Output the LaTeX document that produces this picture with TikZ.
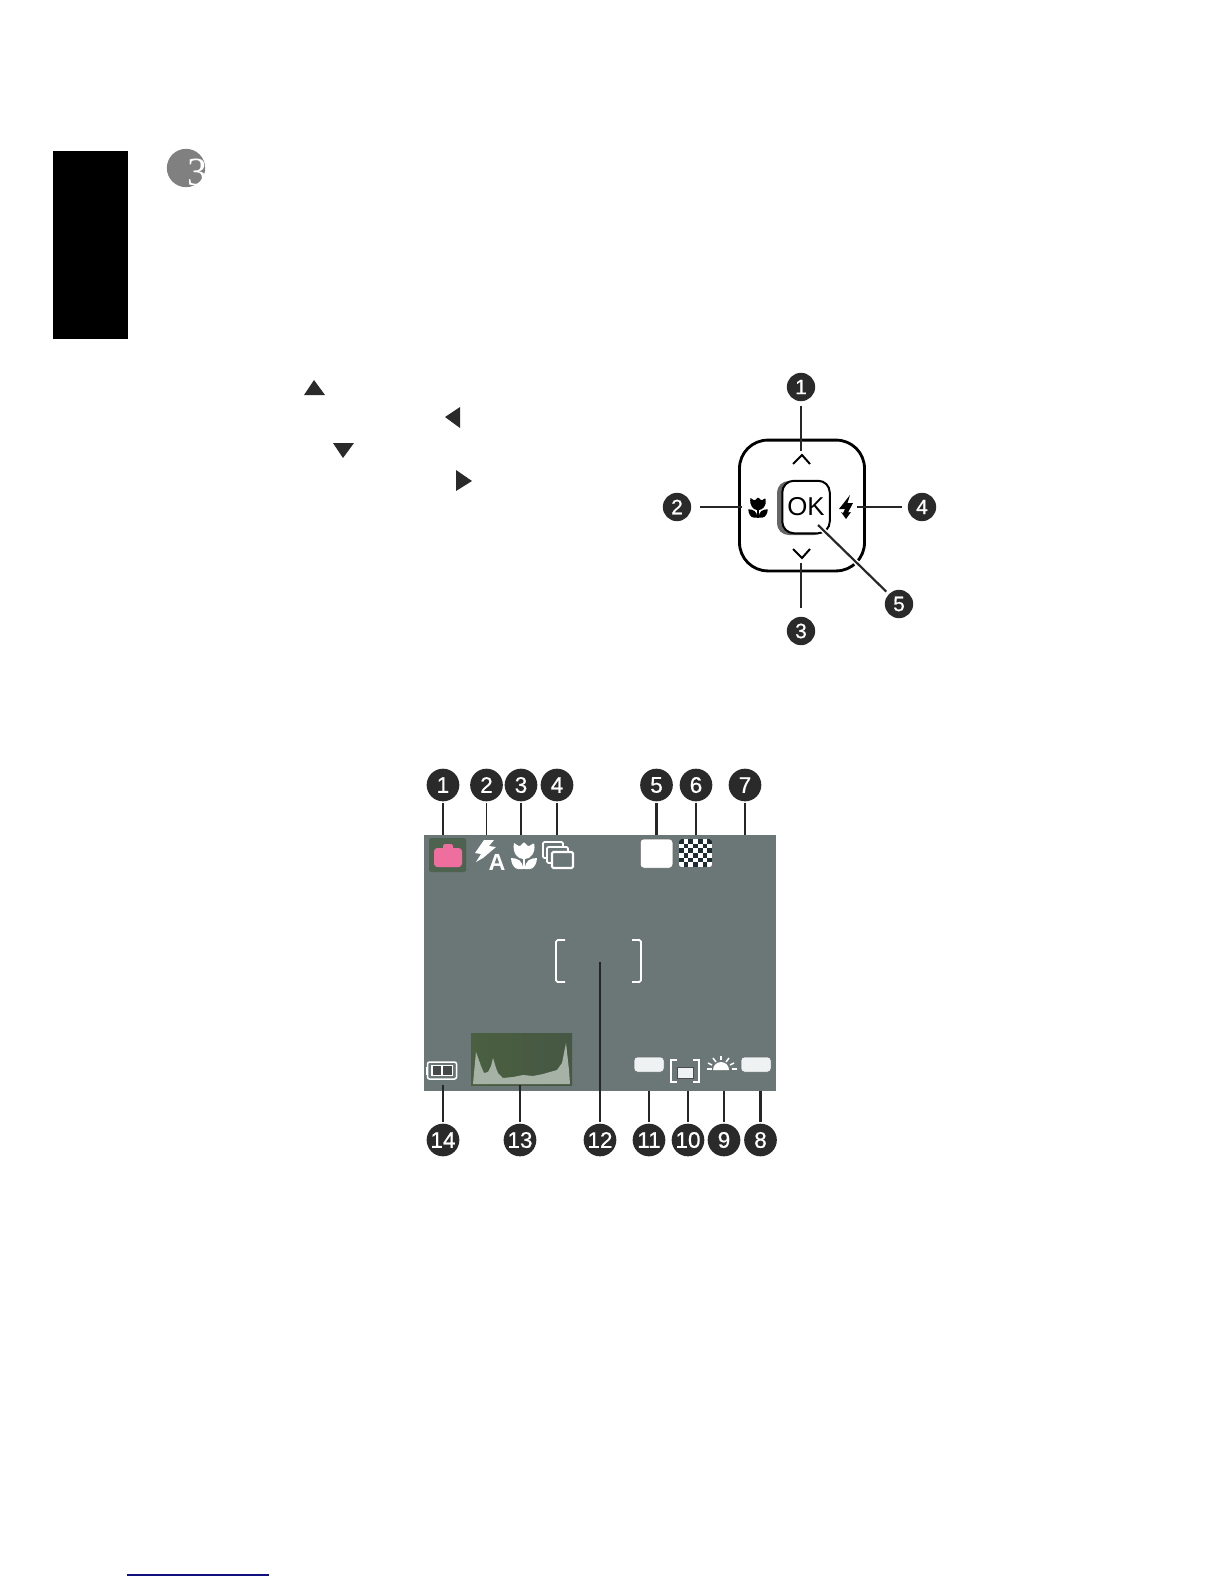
\documentclass[tikz,border=0pt]{standalone}
\usepackage{fontspec}
\setmainfont{Liberation Sans}
\newfontfamily\numfont[FakeBold=0.7]{Liberation Sans}
\newfontfamily\headfont{Liberation Serif}
\usepackage{tikz}
\definecolor{numdark}{HTML}{2A2A2A}
\definecolor{screengray}{HTML}{6B7676}
\definecolor{iconback}{HTML}{4D6350}
\definecolor{campink}{HTML}{EE6F9D}
\definecolor{histleft}{HTML}{4A6040}
\definecolor{histmid}{HTML}{394735}
\definecolor{histright}{HTML}{465744}
\definecolor{histpeak}{HTML}{A6B2A6}
\definecolor{boxwhite}{HTML}{EEF2F2}
\definecolor{checkdark}{HTML}{1D2B33}
\definecolor{rulenavy}{HTML}{10107F}
\definecolor{shadowgray}{HTML}{808080}

\begin{document}
\begin{tikzpicture}[
    x=0.6pt, y=-0.6pt,
    num/.style={circle, fill=numdark, text=white, inner sep=0pt, minimum size=17pt,
                font=\numfont\fontsize{12.5}{13}\selectfont},
    bignum/.style={num, minimum size=19.6pt, font=\numfont\fontsize{13.5}{14}\selectfont},
    leader/.style={line width=1pt, black!85},
    thickleader/.style={line width=1.3pt, black!85},
    tri/.style={fill=numdark},
    whitebox/.style={draw=black!60, fill=boxwhite, line width=0.3pt, rounded corners=2pt},
    frame/.style={draw=white, fill=screengray, line width=1.1pt, rounded corners=0.8pt},
    ray/.style={draw=white, line width=0.9pt},
    flower/.pic={
      \fill[rounded corners=0.6pt] (-10,-12) -- (-4.5,-8.5) -- (0,-13) -- (4.5,-8.5) -- (10,-12)
        .. controls (12,-2) and (6,4) .. (0,4) .. controls (-6,4) and (-12,-2) .. (-10,-12);
      \fill (-13,3) .. controls (-6,3) and (-1,6) .. (-1,14) -- (-6,14)
        .. controls (-10,14) and (-13,8) .. (-13,3);
      \fill (13,3) .. controls (6,3) and (1,6) .. (1,14) -- (6,14)
        .. controls (10,14) and (13,8) .. (13,3);
      \fill (-1.2,2) rectangle (1.2,14);
    },
  ]
    \useasboundingbox (0,0) rectangle (1224,1584);

    % page furniture
    \fill[black] (53,151) rectangle (128,339);
    \node[circle, fill=shadowgray, minimum size=23pt, inner sep=0pt] (headdot) at (186,168) {};
    \node[text=white, font=\headfont\fontsize{24}{25}\selectfont] (headnum) at (197,172) {3};
    \draw[rulenavy, line width=0.9pt] (127,1575) -- (269,1575);

    % arrows in the text column
    \fill[tri] (304,395) -- (314,380) -- (325,395) -- cycle;
    \fill[tri] (445,417) -- (460,407) -- (460,428) -- cycle;
    \fill[tri] (333,443) -- (354,443) -- (343,458) -- cycle;
    \fill[tri] (456,470) -- (472,481) -- (456,491) -- cycle;

    % control pad
    \node[draw, line width=1.7pt, rounded corners=17pt, minimum width=75pt, minimum height=78.5pt] (pad) at (802,505.5) {};
    \fill[black!60, rounded corners=7pt] (777,481) rectangle (826,535);
    \node[draw, fill=white, line width=1.2pt, rounded corners=7pt, minimum width=28.5pt, minimum height=31.5pt, inner sep=0pt,
          font=\fontsize{15.5}{16}\selectfont] (ok) at (806,507) {OK};
    \draw[line width=1.2pt] (793,464) -- (802,455) -- (810,464);
    \draw[line width=1.2pt] (793,549) -- (802,558) -- (810,549);
    \pic[scale=0.75] at (758,507) {flower};
    \fill (850,495) -- (839,509) -- (845,509) -- (843,513) -- (841,512) -- (846,519) -- (851,512) -- (848,512.5) -- (853,503) -- (847.5,503) -- cycle;

    \node[num] (p1) at (801,387) {1};
    \node[num] (p2) at (677,507) {2};
    \node[num] (p3) at (801,631) {3};
    \node[num] (p4) at (922,507) {4};
    \node[num] (p5) at (899,604) {5};
    \coordinate (p1end) at (801,451);
    \coordinate (p2end) at (742,507);
    \coordinate (p3end) at (801,563);
    \coordinate (p4end) at (857,507);
    \coordinate (p5end) at (818,525);
    \draw[leader, shorten <=2.4pt] (p1) -- (p1end);
    \draw[leader, shorten <=5pt] (p2) -- (p2end);
    \draw[leader, shorten <=5pt] (p3) -- (p3end);
    \draw[leader, shorten <=3.6pt] (p4) -- (p4end);
    \draw[white, line width=3.2pt, shorten >=2pt] (p5) -- (p5end);
    \draw[thickleader, shorten <=2pt] (p5) -- (p5end);

    % lcd screen
    \fill[screengray] (424,835) rectangle (776,1091);

    \fill[iconback, rounded corners=1pt] (429,838) rectangle (466,872);
    \fill[campink, rounded corners=2pt] (434,848) rectangle (462,867);
    \fill[campink, rounded corners=1pt] (443,844) rectangle (453,851);

    \fill[white] (484,840) -- (494,840) -- (489,846) -- (496,847) -- (483,858) -- (476,862) -- (481,854) -- (475,853) -- cycle;
    \node[text=white, font=\bfseries\fontsize{14}{14}\selectfont, inner sep=0pt] (flashA) at (497,862) {A};
    \pic[white] at (524,855) {flower};

    \draw[frame] (543,842) rectangle (563,858);
    \draw[frame] (547,847) rectangle (568,863);
    \draw[frame, line width=1.3pt] (552,852) rectangle (573,868);

    \node[whitebox, fill=white, minimum width=19.5pt, minimum height=17.4pt, inner sep=0pt] (size) at (656.5,853.5) {};
    \begin{scope}
      \clip[rounded corners=1.5pt] (679,839) rectangle (712,867);
      \fill[white] (679,839) rectangle (712,867);
      \foreach \i in {0,...,6} {
        \foreach \j in {0,...,5} {
          \pgfmathparse{int(mod(\i+\j,2))}
          \ifnum\pgfmathresult=0
            \fill[checkdark] (679+\i*4.72,839+\j*4.67) rectangle ++(4.72,4.67);
          \fi
        }
      }
    \end{scope}

    % focus brackets
    \draw[white, line width=1pt, rounded corners=1pt] (565,940) -- (556,940) -- (556,982) -- (565,982);
    \draw[white, line width=1.6pt] (556,943) -- (556,979);
    \draw[white, line width=1pt, rounded corners=1pt] (632,940) -- (641,940) -- (641,982) -- (632,982);
    \draw[white, line width=1.6pt] (641,943) -- (641,979);

    % histogram
    \shade[left color=histleft, middle color=histmid, right color=histright] (471,1033) rectangle (572,1085);
    \fill[histpeak] (473,1084) -- (476,1052) -- (481,1066) -- (484,1073) -- (488,1072) -- (491,1066) -- (493,1058) -- (496,1068) -- (498,1073) -- (503,1078)
       -- (513,1077) -- (523,1075) -- (533,1076) -- (543,1074) -- (557,1070) -- (562,1063) -- (566,1043) -- (569,1070) -- (570,1084) -- cycle;

    % battery
    \fill[white] (425.5,1067) rectangle (428,1075);
    \draw[white, line width=0.9pt, rounded corners=1.2pt] (427.5,1062) rectangle (456.5,1079);
    \draw[white, line width=0.9pt, fill=numdark!60!screengray] (432,1065.5) rectangle (442,1075.5);
    \draw[white, line width=0.9pt, fill=numdark!60!screengray] (442,1065.5) rectangle (452.5,1075.5);

    % bottom row icons
    \node[whitebox, minimum width=18pt, minimum height=9pt, inner sep=0pt] (box11) at (649,1064.5) {};
    \node[whitebox, minimum width=18pt, minimum height=9pt, inner sep=0pt] (box8) at (756,1064.5) {};
    \draw[white, line width=1.1pt] (677,1060) -- (671,1060) -- (671,1082) -- (677,1082);
    \draw[white, line width=1.1pt] (693,1060) -- (699,1060) -- (699,1082) -- (693,1082);
    \draw[black!70, fill=boxwhite, line width=0.4pt] (677,1067) rectangle (693,1078);
    \fill[white] (713,1070) arc[start angle=180, end angle=360, radius=8] -- cycle;
    \draw[ray] (707,1069) -- (712,1069);
    \draw[ray] (732,1069) -- (737,1069);
    \draw[ray] (721,1056) -- (721,1060);
    \draw[ray] (713,1058) -- (716,1062);
    \draw[ray] (729,1058) -- (726,1062);
    \draw[ray] (708,1063) -- (712,1065);
    \draw[ray] (734,1063) -- (730,1065);

    % callouts
    \node[bignum] (s1) at (443,785) {1};
    \node[bignum] (s2) at (486.5,785) {2};
    \node[bignum] (s3) at (521,785) {3};
    \node[bignum] (s4) at (557,785) {4};
    \node[bignum] (s5) at (656.5,785) {5};
    \node[bignum] (s6) at (696,785) {6};
    \node[bignum] (s7) at (745,785) {7};
    \node[bignum] (s8) at (760.5,1140) {8};
    \node[bignum] (s9) at (724,1140) {9};
    \node[bignum] (s10) at (688,1140) {10};
    \node[bignum] (s11) at (649,1140) {11};
    \node[bignum] (s12) at (600,1140) {12};
    \node[bignum] (s13) at (520,1140) {13};
    \node[bignum] (s14) at (443,1140) {14};

    \coordinate (s1end) at (443,835);
    \coordinate (s2end) at (486.5,835);
    \coordinate (s3end) at (521,835);
    \coordinate (s4end) at (557,835);
    \coordinate (s5end) at (656.5,835);
    \coordinate (s6end) at (696,835);
    \coordinate (s7end) at (745,835);
    \coordinate (s8end) at (760.5,1091);
    \coordinate (s9end) at (724,1091);
    \coordinate (s10end) at (688,1091);
    \coordinate (s11end) at (649,1091);
    \coordinate (s12end) at (600,962);
    \coordinate (s13end) at (520,1085);
    \coordinate (s14end) at (443,1085);

    \draw[leader, shorten <=1pt] (s1) -- (s1end);
    \draw[leader, shorten <=1pt] (s2) -- (s2end);
    \draw[thickleader, shorten <=1pt] (s3) -- (s3end);
    \draw[thickleader, shorten <=1pt] (s4) -- (s4end);
    \draw[thickleader, shorten <=1pt] (s5) -- (s5end);
    \draw[thickleader, shorten <=1pt] (s6) -- (s6end);
    \draw[leader, shorten <=1pt] (s7) -- (s7end);
    \draw[thickleader, shorten <=1pt] (s8) -- (s8end);
    \draw[leader, shorten <=1pt] (s9) -- (s9end);
    \draw[leader, shorten <=1pt] (s10) -- (s10end);
    \draw[leader, shorten <=1pt] (s11) -- (s11end);
    \draw[leader, shorten <=1pt] (s12) -- (s12end);
    \draw[leader, shorten <=1pt] (s13) -- (s13end);
    \draw[leader, shorten <=1pt] (s14) -- (s14end);
  \end{tikzpicture}
\end{document}
